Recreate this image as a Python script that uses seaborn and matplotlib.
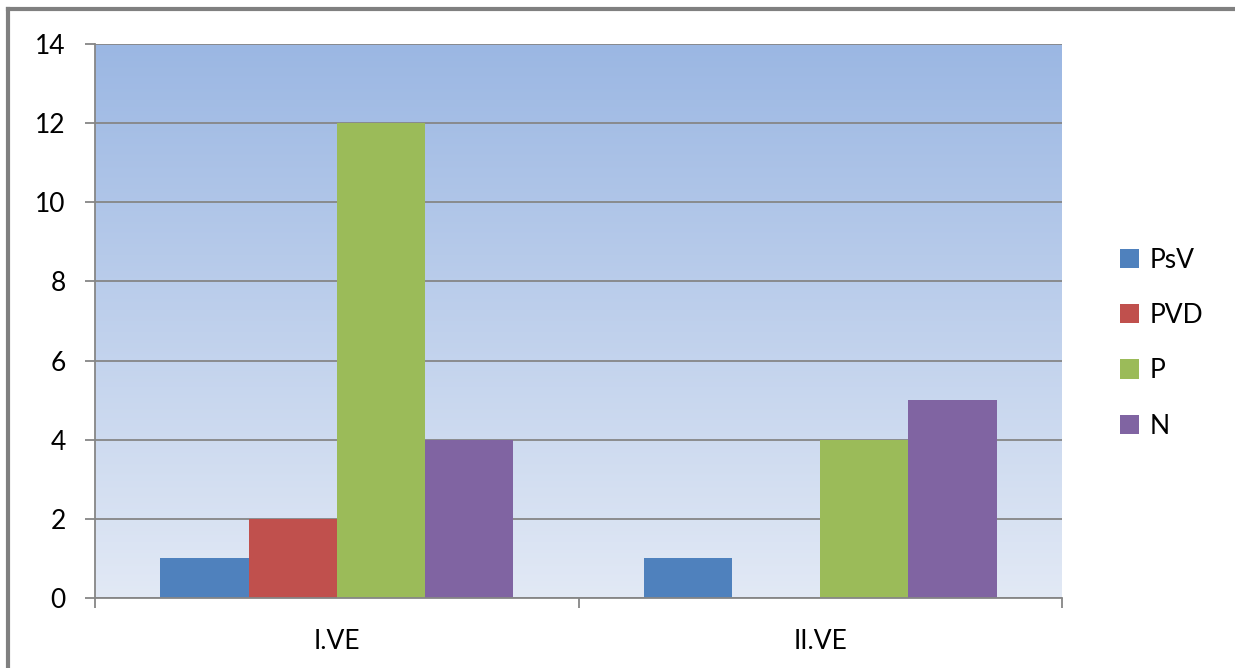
import numpy as np
import pandas as pd
import matplotlib
matplotlib.use('Agg')
import matplotlib.pyplot as plt
from matplotlib.lines import Line2D
from matplotlib.colors import LinearSegmentedColormap
import seaborn as sns

categories = ['I.VE', 'II.VE']
series = ['PsV', 'PVD', 'P', 'N']
psv = [1, 1]
pvd = [2, 0]
p = [12, 4]
n = [4, 5]
colors = ['#4F81BD', '#C0504D', '#9BBB59', '#8064A2']

df = pd.DataFrame({
    'category': categories * 4,
    'series': [s for s in series for _ in categories],
    'value': psv + pvd + p + n,
})

plt.rcParams['font.family'] = ['Lato', 'DejaVu Sans']

fig = plt.figure(figsize=(12.35, 6.68), dpi=100)
ax = fig.add_axes([95 / 1235, 1 - 598 / 668, (1062 - 95) / 1235, (598 - 44) / 668])

sns.barplot(data=df, x='category', y='value', hue='series', hue_order=series,
            palette=colors, width=0.73, saturation=1, ax=ax, zorder=2)

# gradient background like the Excel plot area
grad = np.linspace(0, 1, 256).reshape(-1, 1)
cmap = LinearSegmentedColormap.from_list('bg', ['#E2E9F5', '#9BB7E3'])
ax.imshow(grad, cmap=cmap, origin='lower', extent=[0, 1, 0, 1], transform=ax.transAxes,
          aspect='auto', zorder=0)

ax.set_xlim(-0.5, 1.5)
ax.set_ylim(0, 14)
ax.set_yticks(range(0, 15, 2))
ax.yaxis.grid(True, color='#868686', linewidth=1.3)
ax.set_axisbelow(True)
ax.set_xlabel('')
ax.set_ylabel('')

for side in ['top', 'right']:
    ax.spines[side].set_visible(False)
for side in ['left', 'bottom']:
    ax.spines[side].set_color('#868686')
    ax.spines[side].set_linewidth(1.3)

ax.tick_params(axis='y', length=7, width=1.3, color='#868686', pad=14, labelsize=19)
ax.tick_params(axis='x', which='major', length=0, pad=22, labelsize=19)
ax.set_xticks([-0.5, 0.5, 1.5], minor=True)
ax.tick_params(axis='x', which='minor', length=7, width=1.3, color='#868686')

leg = ax.legend(loc='center left', bbox_to_anchor=(1.035, 0.46), frameon=False,
                fontsize=19, handlelength=0.75, handleheight=0.75,
                handletextpad=0.4, labelspacing=1.15)

# outer chart border (left and top only visible)
fig.add_artist(Line2D([8 / 1235, 8 / 1235], [0, 1 - 9 / 668], color='#808080', linewidth=3,
                      transform=fig.transFigure))
fig.add_artist(Line2D([8 / 1235, 1], [1 - 9 / 668, 1 - 9 / 668], color='#808080', linewidth=3,
                      transform=fig.transFigure))

fig.savefig('out.png', dpi=100)
